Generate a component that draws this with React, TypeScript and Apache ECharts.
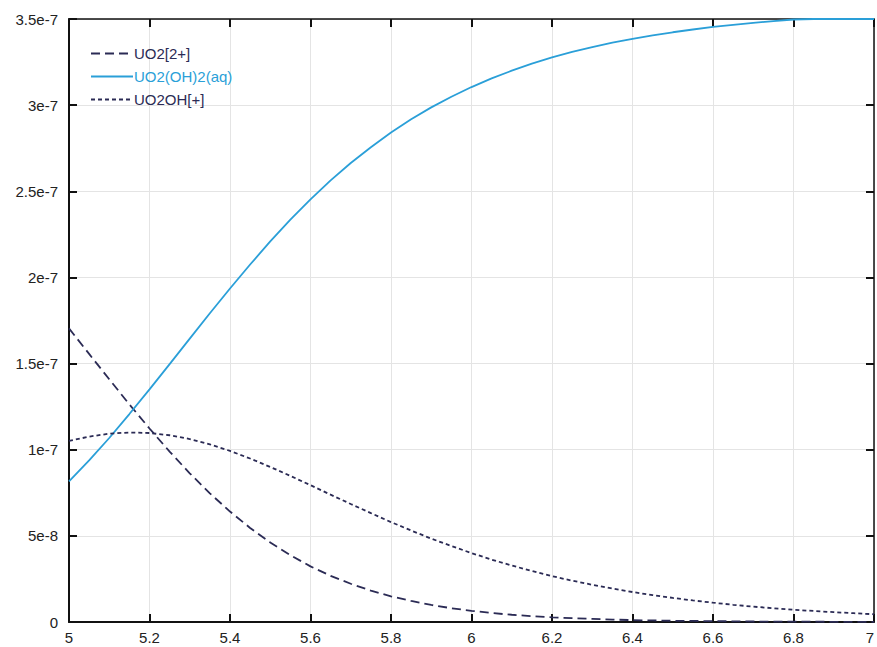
import React, { useEffect, useRef } from "react";
import * as echarts from "echarts";

const pH = [
  5.0, 5.05, 5.1, 5.15, 5.2, 5.25, 5.3, 5.35, 5.4, 5.45, 5.5, 5.55, 5.6, 5.65, 5.7, 5.75, 5.8, 5.85, 5.9, 5.95,
  6.0, 6.05, 6.1, 6.15, 6.2, 6.25, 6.3, 6.35, 6.4, 6.45, 6.5, 6.55, 6.6, 6.65, 6.7, 6.75, 6.8, 6.85, 6.9, 6.95, 7.0,
];

// values in units of 1e-7
const uo2 = [
  1.704, 1.556, 1.409, 1.263, 1.123, 0.989, 0.863, 0.747, 0.641, 0.546, 0.462, 0.388, 0.323, 0.268, 0.222, 0.182,
  0.149, 0.122, 0.099, 0.080, 0.065, 0.052, 0.042, 0.034, 0.027, 0.022, 0.018, 0.014, 0.011, 0.009, 0.007, 0.006,
  0.005, 0.004, 0.003, 0.002, 0.002, 0.002, 0.001, 0.001, 0.001,
];
const uo2oh2 = [
  0.816, 0.938, 1.068, 1.207, 1.35, 1.497, 1.645, 1.792, 1.936, 2.075, 2.209, 2.335, 2.453, 2.563, 2.664, 2.756,
  2.841, 2.918, 2.987, 3.049, 3.105, 3.155, 3.2, 3.241, 3.277, 3.309, 3.337, 3.363, 3.385, 3.405, 3.423, 3.439,
  3.454, 3.466, 3.478, 3.488, 3.497, 3.5, 3.5, 3.5, 3.5,
];
const uo2oh = [
  1.051, 1.076, 1.093, 1.1, 1.097, 1.084, 1.062, 1.031, 0.993, 0.949, 0.9, 0.848, 0.794, 0.739, 0.685, 0.632,
  0.58, 0.531, 0.484, 0.441, 0.4, 0.362, 0.328, 0.296, 0.266, 0.24, 0.216, 0.194, 0.174, 0.156, 0.14, 0.125,
  0.112, 0.1, 0.089, 0.08, 0.071, 0.064, 0.057, 0.051, 0.045,
];

const seriesNames = ["UO2[2+]", "UO2(OH)2(aq)", "UO2OH[+]"];
const xTickLabels = ["5", "5.2", "5.4", "5.6", "5.8", "6", "6.2", "6.4", "6.6", "6.8", "7"];
const yTickLabels = ["0", "5e-8", "1e-7", "1.5e-7", "2e-7", "2.5e-7", "3e-7", "3.5e-7"];

const BLUE = "#2a9fd8";
const NAVY = "#2b2b55";
const FONT = "'Liberation Sans', Arial, sans-serif";

export default function App() {
  const ref = useRef<HTMLDivElement>(null);
  useEffect(() => {
    if (!ref.current) return;
    const chart = echarts.init(ref.current, null, { renderer: "svg" });
    const toPairs = (arr: number[]) => pH.map((x, i) => [x, arr[i]]);
    const xIdx = (v: number) => Math.round((v - 5) / 0.2);
    const yIdx = (v: number) => Math.round(v / 0.5);
    const tick = () => ({ show: true, inside: true, length: 8, lineStyle: { color: "#111", width: 2 } });
    const xBase = { type: "value", min: 5, max: 7, interval: 0.2 };
    const yBase = { type: "value", min: 0, max: 3.5, interval: 0.5 };
    const gridOnly = {
      z: 0,
      axisLine: { show: false },
      axisTick: { show: false },
      axisLabel: { show: false },
      splitLine: { show: true, lineStyle: { color: "#e4e4e4", width: 1 } },
    };
    chart.setOption({
      animation: false,
      backgroundColor: "#fff",
      grid: { left: 69, right: 3, top: 19, bottom: 25, show: false, containLabel: false, outerBoundsMode: "none" },
      legend: {
        orient: "vertical",
        left: 85,
        top: 41,
        itemWidth: 42,
        itemHeight: 10,
        itemGap: 8,
        itemStyle: { opacity: 0 },
        textStyle: { fontSize: 15, fontFamily: FONT, color: NAVY, padding: [0, 0, 0, -4] },
        data: [
          { name: seriesNames[0], textStyle: { color: NAVY } },
          { name: seriesNames[1], textStyle: { color: BLUE } },
          { name: seriesNames[2], textStyle: { color: NAVY } },
        ],
      },
      xAxis: [
        {
          ...xBase,
          position: "bottom",
          z: 3,
          axisLine: { show: true, onZero: false, lineStyle: { color: "#111", width: 2 } },
          axisTick: tick(),
          axisLabel: {
            fontSize: 15,
            fontFamily: FONT,
            color: "#222",
            margin: 8,
            alignMaxLabel: "right",
            formatter: (v: number) => xTickLabels[xIdx(v)] ?? "",
          },
          splitLine: { show: false },
        },
        {
          ...xBase,
          position: "top",
          z: 3,
          axisLine: { show: true, onZero: false, lineStyle: { color: "#111", width: 1.5 } },
          axisTick: tick(),
          axisLabel: { show: false },
          splitLine: { show: false },
        },
        { ...xBase, position: "bottom", ...gridOnly },
      ],
      yAxis: [
        {
          ...yBase,
          position: "left",
          z: 3,
          axisLine: { show: true, onZero: false, lineStyle: { color: "#111", width: 2 } },
          axisTick: tick(),
          axisLabel: {
            fontSize: 15,
            fontFamily: FONT,
            color: "#222",
            margin: 11,
            formatter: (v: number) => yTickLabels[yIdx(v)] ?? "",
          },
          splitLine: { show: false },
        },
        {
          ...yBase,
          position: "right",
          z: 3,
          axisLine: { show: true, onZero: false, lineStyle: { color: "#111", width: 1.5 } },
          axisTick: tick(),
          axisLabel: { show: false },
          splitLine: { show: false },
        },
        { ...yBase, position: "left", ...gridOnly },
      ],
      series: [
        {
          name: seriesNames[0],
          type: "line",
          symbol: "none",
          data: toPairs(uo2),
          lineStyle: { color: NAVY, width: 1.8, type: [9, 5] },
          itemStyle: { color: NAVY },
        },
        {
          name: seriesNames[1],
          type: "line",
          symbol: "none",
          data: toPairs(uo2oh2),
          lineStyle: { color: BLUE, width: 1.8, type: "solid" },
          itemStyle: { color: BLUE },
        },
        {
          name: seriesNames[2],
          type: "line",
          symbol: "none",
          data: toPairs(uo2oh),
          lineStyle: { color: NAVY, width: 1.8, type: [4, 3] },
          itemStyle: { color: NAVY },
        },
      ],
    });
    return () => chart.dispose();
  }, []);
  return <div ref={ref} style={{ position: "fixed", left: 0, top: 0, width: 877, height: 647 }} />;
}
